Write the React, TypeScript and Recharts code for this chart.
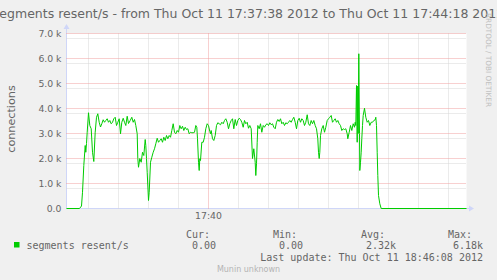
import React from "react";
import { LineChart, Line, XAxis, YAxis, CartesianGrid } from "recharts";

// seconds since 17:37:38
const times = [
  0, 13, 15, 16, 17.3, 18.7, 19.3, 20, 20.7, 22, 23.3, 24.7, 26, 27.3, 28.7, 30, 31.3, 32.7, 34, 35.3,
  36.7, 38, 39.3, 40.7, 42, 43.3, 44.7, 46, 47.3, 48.7, 50, 51.3, 52.7, 54, 55.3, 56.7, 58, 59.3, 60.7, 62,
  63.7, 65.3, 66.7, 68, 69.3, 70.7, 71.3, 72, 73.3, 74.7, 76, 77.3, 78.7, 79.3, 80, 80.7, 82, 82.7, 84, 85.3,
  86.7, 88, 89.3, 90.7, 92, 93.3, 94.7, 96, 97.3, 98.7, 100, 101.3, 102.7, 104, 105.3, 106.7, 108, 109.3, 110.7, 112,
  113.3, 114.7, 116, 117.3, 118.7, 120, 121.3, 122.7, 124, 125.3, 126.7, 128, 129.3, 130.3, 131, 132, 132.7, 133.3, 134, 135.3,
  136.7, 138, 139.3, 140.7, 142, 143.3, 144, 144.7, 146, 147.3, 148.7, 150, 151.3, 152.7, 154, 155.3, 156.7, 158, 159.3, 160.7,
  162, 163.3, 164.7, 166, 167.3, 168.7, 170, 171.3, 172.7, 174, 175.3, 176.7, 178, 179.3, 180.7, 182, 183.3, 184.7, 186, 187.3,
  188.7, 189.3, 190, 190.7, 191.3, 192.7, 194, 195.3, 196.7, 198, 199.3, 200.7, 202, 203.3, 204.7, 206, 207.3, 208.7, 210, 211.3,
  212.7, 214, 215.3, 216.7, 218, 219.3, 220.7, 222, 223.3, 224.7, 226, 227.3, 228.7, 230, 231.3, 232.7, 234, 235.3, 236.7, 238,
  239.3, 240.7, 242, 243.3, 244.7, 246, 247.3, 248.7, 250, 251.3, 252, 252.7, 253.3, 254, 255.3, 256.7, 258, 259.3, 260.7, 262,
  263.3, 264.7, 266, 267.3, 268.7, 270, 271.3, 272.7, 274, 275.3, 276.7, 278, 279.3, 280.7, 281.3, 282.7, 284, 285.3, 286.7, 288,
  288.7, 289.3, 290, 290.7, 291.3, 291.7, 292.3, 293, 293.3, 294, 294.7, 295.3, 296, 296.7, 298, 299.3, 300.7, 302, 303.3, 304.7,
  306, 307.3, 308.7, 309.3, 310, 310.7, 311.3, 312, 313.3, 314.7, 400,
];

// segments resent/s
const resent = [
  0, 0, 100, 650, 1720, 2520, 2250, 2600, 3050, 3830, 3320, 3190, 2250, 1880, 3050, 3650, 3790, 3450, 3260, 3390,
  3550, 3450, 3520, 3590, 3450, 3520, 3390, 3450, 3590, 3650, 3320, 3450, 3590, 2990, 3450, 3610, 3450, 3320, 3690, 3400,
  3520, 3650, 3450, 3560, 3320, 2990, 2000, 1650, 2000, 1850, 2250, 2120, 2760, 2520, 2000, 1450, 320, 650, 1850, 2050,
  2250, 2390, 2590, 2810, 2650, 2720, 2790, 2650, 2850, 2720, 2920, 2790, 2920, 2850, 3120, 3390, 3050, 2990, 3120, 3050,
  3320, 3190, 3290, 3120, 3250, 3160, 3190, 2990, 3050, 3030, 3030, 3050, 3320, 3250, 2790, 1850, 1520, 1990, 1920, 2650,
  2650, 2850, 3190, 3390, 3320, 3080, 2990, 3120, 2790, 2720, 2920, 3320, 3430, 3390, 3350, 3450, 3390, 3520, 3590, 3450,
  3190, 3390, 3520, 3590, 3190, 3560, 3320, 3520, 3610, 3560, 3450, 3250, 3520, 3390, 3450, 3210, 3320, 3190, 2000, 2390,
  1850, 1320, 1790, 2650, 3320, 3190, 3390, 3050, 3320, 3250, 3350, 3390, 3320, 3430, 3350, 3390, 3250, 3190, 3450, 3560,
  3480, 3590, 3390, 3450, 3320, 3430, 3390, 3450, 3520, 3450, 3560, 3650, 3450, 3190, 3520, 3610, 3450, 3590, 3520, 3320,
  3450, 3750, 3390, 3320, 3520, 3390, 3520, 3320, 3190, 2790, 2250, 2000, 2250, 2920, 3190, 3320, 3050, 3250, 3520, 3590,
  3650, 3720, 3450, 3520, 3590, 3450, 3520, 3390, 3320, 3120, 3190, 3160, 3190, 2990, 2790, 3050, 3320, 3120, 3390, 3250,
  3450, 3320, 4920, 2650, 4900, 3000, 6190, 3000, 1520, 1850, 2250, 2790, 3320, 3720, 4010, 3650, 3450, 3520, 3320, 3450,
  3450, 3520, 3550, 3650, 3320, 2250, 1320, 520, 190, 0, 0,
];

const yTicks = [0, 1000, 2000, 3000, 4000, 5000, 6000, 7000];
const yMinor = [
  200, 400, 600, 800, 1200, 1400, 1600, 1800, 2200, 2400, 2600, 2800, 3200, 3400, 3600, 3800,
  4200, 4400, 4600, 4800, 5200, 5400, 5600, 5800, 6200, 6400, 6600, 6800,
];
const xMajor = [142]; // 17:40:00
const xMinor = [22, 52, 82, 112, 172, 202, 232, 262, 292, 322, 352, 382];
const xLabels: { [t: number]: string } = { 142: "17:40" };

const data = times.map((t, i) => ({ t, v: resent[i] }));

const FONT = "#666666";
const AXIS = "#CFD6F8";

export default function App() {
  return (
    <div style={{ position: "absolute", left: 0, top: 0, width: 497, height: 280, background: "#F0F0F0" }}>
      <svg
        width={497}
        height={280}
        style={{ position: "absolute", left: 0, top: 0, pointerEvents: "none" }}
      >
        {/* canvas and axes, under the chart */}
        <rect x={66.5} y={33.5} width={400} height={175} fill="#ffffff" />
        <line x1={66.5} y1={209} x2={66.5} y2={28} stroke={AXIS} />
        <polygon points="63.5,29 69.5,29 66.5,24" fill={AXIS} />
        <line x1={66} y1={208.5} x2={470} y2={208.5} stroke={AXIS} />
        <polygon points="469,205.5 469,211.5 474,208.5" fill={AXIS} />

        <text x={248.5} y={17.5} textAnchor="middle" fontFamily="DejaVu Sans" fontSize={12.5} fill={FONT}>
          segments resent/s - from Thu Oct 11 17:37:38 2012 to Thu Oct 11 17:44:18 2012
        </text>
        <text
          transform="translate(15,119) rotate(-90)"
          textAnchor="middle"
          fontFamily="DejaVu Sans"
          fontSize={11.2}
          fill={FONT}
        >
          connections
        </text>
        <text
          transform="translate(486,60) rotate(90)"
          textAnchor="middle"
          fontFamily="DejaVu Sans"
          fontSize={7.3}
          fill="#c0c0c0"
        >
          RRDTOOL / TOBI OETIKER
        </text>

        <g fontFamily="DejaVu Sans Mono" fontSize={10} fill={FONT}>
          <text x={186} y={237.5}>Cur:</text>
          <text x={273} y={237.5}>Min:</text>
          <text x={361} y={237.5}>Avg:</text>
          <text x={448} y={237.5}>Max:</text>
          <rect x={14} y={242} width={5.5} height={5.5} fill="#00CC00" />
          <text x={26.5} y={249}>segments resent/s</text>
          <text x={192} y={249}>0.00</text>
          <text x={279} y={249}>0.00</text>
          <text x={396} y={249} textAnchor="end">2.32k</text>
          <text x={483} y={249} textAnchor="end">6.18k</text>
          <text x={483} y={260.5} textAnchor="end">Last update: Thu Oct 11 18:46:08 2012</text>
        </g>
        <text x={248.5} y={271.5} textAnchor="middle" fontFamily="DejaVu Sans" fontSize={8} fill="#b4b4b4">
          Munin unknown
        </text>
      </svg>

      <LineChart
        width={497}
        height={280}
        data={data}
        margin={{ top: 33.5, right: 30.5, bottom: 51.5, left: 0 }}
        style={{ position: "absolute", left: 0, top: 0 }}
      >
        <CartesianGrid
          stroke="#d6d6d6"
          strokeDasharray="1 1"
          horizontalValues={yMinor}
          verticalValues={xMinor}
        />
        <CartesianGrid
          stroke="#f0a0a0"
          strokeDasharray="1 1"
          horizontalValues={yTicks.filter((v) => v > 0)}
          verticalValues={xMajor}
        />
        <XAxis
          dataKey="t"
          type="number"
          domain={[0, 400]}
          ticks={xMajor}
          tickFormatter={(v) => xLabels[v] || ""}
          axisLine={false}
          tickLine={false}
          tickSize={3}
          tickMargin={1}
          height={20}
          tick={{ fill: FONT, fontSize: 9.3, fontFamily: "DejaVu Sans" }}
        />
        <YAxis
          type="number"
          domain={[0, 7000]}
          ticks={yTicks}
          width={66.5}
          axisLine={false}
          tickLine={false}
          tickSize={4}
          tickMargin={1}
          tickFormatter={(v) => (v === 0 ? "0.0" : (v / 1000).toFixed(1) + " k")}
          tick={{ fill: FONT, fontSize: 9.3, fontFamily: "DejaVu Sans" }}
        />
        <Line
          type="linear"
          dataKey="v"
          stroke="#00CC00"
          strokeWidth={1}
          dot={false}
          isAnimationActive={false}
        />
      </LineChart>
    </div>
  );
}
